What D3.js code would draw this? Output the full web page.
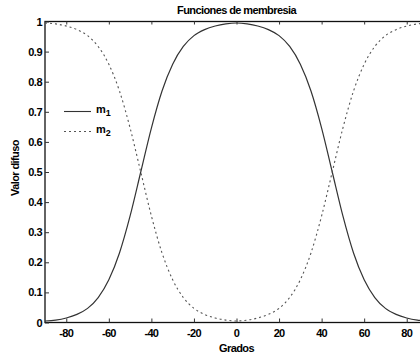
<!DOCTYPE html>
<html>
<head>
<meta charset="utf-8">
<script src="https://cdn.jsdelivr.net/npm/d3@7"></script>
<style>
  html, body { margin: 0; padding: 0; background: #fff; }
  svg { display: block; font-family: "Liberation Sans", Arial, sans-serif; }
</style>
</head>
<body>
<div id="chart"></div>
<script>
// grados (eje x)
const grados = [-90, -85, -80, -75, -70, -65, -60, -55, -50, -45, -40, -35, -30, -25, -20, -15, -10, -5,
  0, 5, 10, 15, 20, 25, 30, 35, 40, 45, 50, 55, 60, 65, 70, 75, 80, 85, 90];
// m1
const m1 = [0.005, 0.008, 0.015, 0.027, 0.047, 0.083, 0.142, 0.231, 0.354, 0.500, 0.646, 0.769, 0.858, 0.917, 0.953, 0.973, 0.985, 0.992,
  0.995, 0.992, 0.985, 0.973, 0.953, 0.917, 0.858, 0.769, 0.646, 0.500, 0.354, 0.231, 0.142, 0.083, 0.047, 0.027, 0.015, 0.008, 0.005];
// m2
const m2 = [0.995, 0.992, 0.985, 0.973, 0.953, 0.917, 0.858, 0.769, 0.646, 0.500, 0.354, 0.231, 0.142, 0.083, 0.047, 0.027, 0.015, 0.008,
  0.005, 0.008, 0.015, 0.027, 0.047, 0.083, 0.142, 0.231, 0.354, 0.500, 0.646, 0.769, 0.858, 0.917, 0.953, 0.973, 0.985, 0.992, 0.995];
const xTicks = [-80, -60, -40, -20, 0, 20, 40, 60, 80];
const yTicks = [0, 0.1, 0.2, 0.3, 0.4, 0.5, 0.6, 0.7, 0.8, 0.9, 1];
const seriesNames = ["m", "m"];
const seriesSubs = ["1", "2"];

const width = 420, height = 357;
const plotL = 45, plotR = 428, plotT = 21.5, plotB = 322.5;

const svg = d3.select("#chart").append("svg")
  .attr("width", width)
  .attr("height", height);

const x = d3.scaleLinear().domain([-90, 90]).range([plotL, plotR]);
const y = d3.scaleLinear().domain([0, 1]).range([plotB, plotT]);

// box
svg.append("rect")
  .attr("x", plotL).attr("y", plotT)
  .attr("width", plotR - plotL).attr("height", plotB - plotT)
  .attr("fill", "none").attr("stroke", "#111").attr("stroke-width", 1.3);

// axes, ticks pointing inward
const xAxis = svg.append("g")
  .attr("transform", `translate(0,${plotB})`)
  .call(d3.axisTop(x).tickValues(xTicks).tickSize(4).tickFormat(""));
const xTop = svg.append("g")
  .attr("transform", `translate(0,${plotT})`)
  .call(d3.axisBottom(x).tickValues(xTicks).tickSize(3).tickFormat(""));
const yAxis = svg.append("g")
  .attr("transform", `translate(${plotL},0)`)
  .call(d3.axisRight(y).tickValues(yTicks).tickSize(4).tickFormat(""));
[xAxis, xTop, yAxis].forEach(g => {
  g.select(".domain").remove();
  g.selectAll("line").attr("stroke", "#333");
});

// tick labels
svg.append("g").selectAll("text")
  .data(xTicks).join("text")
  .attr("x", d => x(d))
  .attr("y", plotB + 14.5)
  .attr("text-anchor", "middle")
  .style("font-size", "11px").style("font-weight", "bold")
  .style("letter-spacing", "-0.7px")
  .text(d => d);

svg.append("g").selectAll("text")
  .data(yTicks).join("text")
  .attr("x", plotL - 3)
  .attr("y", d => y(d) + 4)
  .attr("text-anchor", "end")
  .style("font-size", "11px").style("font-weight", "bold")
  .style("letter-spacing", "-0.5px")
  .text(d => d);

// curves
const line = d3.line()
  .x((d, i) => x(grados[i]))
  .y(d => y(d))
  .curve(d3.curveMonotoneX);

svg.append("path")
  .attr("d", line(m1))
  .attr("fill", "none").attr("stroke", "#333").attr("stroke-width", 1.2);

svg.append("path")
  .attr("d", line(m2))
  .attr("fill", "none").attr("stroke", "#555").attr("stroke-width", 1.1)
  .attr("stroke-dasharray", "2,3");

// title and labels
svg.append("text")
  .attr("x", (plotL + plotR) / 2).attr("y", 13.5)
  .attr("text-anchor", "middle")
  .style("font-size", "11px").style("font-weight", "bold")
  .style("letter-spacing", "-0.6px")
  .text("Funciones de membresia");

svg.append("text")
  .attr("x", (plotL + plotR) / 2).attr("y", 352)
  .attr("text-anchor", "middle")
  .style("font-size", "11px").style("font-weight", "bold")
  .style("letter-spacing", "-0.6px")
  .text("Grados");

svg.append("text")
  .attr("transform", `translate(19,${(plotT + plotB) / 2 - 4}) rotate(-90)`)
  .attr("text-anchor", "middle")
  .style("font-size", "11px").style("font-weight", "bold")
  .style("letter-spacing", "-0.6px")
  .text("Valor difuso");

// legend (no box)
const legend = svg.append("g");
seriesNames.forEach((name, i) => {
  const ly = 111.5 + i * 20;
  legend.append("line")
    .attr("x1", 64).attr("x2", 91).attr("y1", ly).attr("y2", ly)
    .attr("stroke", i === 0 ? "#333" : "#555")
    .attr("stroke-width", 1.1)
    .attr("stroke-dasharray", i === 0 ? null : "2,3");
  const t = legend.append("text")
    .attr("x", 96).attr("y", ly + 1)
    .style("font-size", "11px").style("font-weight", "bold");
  t.append("tspan").text(name);
  t.append("tspan").attr("dy", 3).style("font-size", "9px").text(seriesSubs[i]);
});
</script>
</body>
</html>
